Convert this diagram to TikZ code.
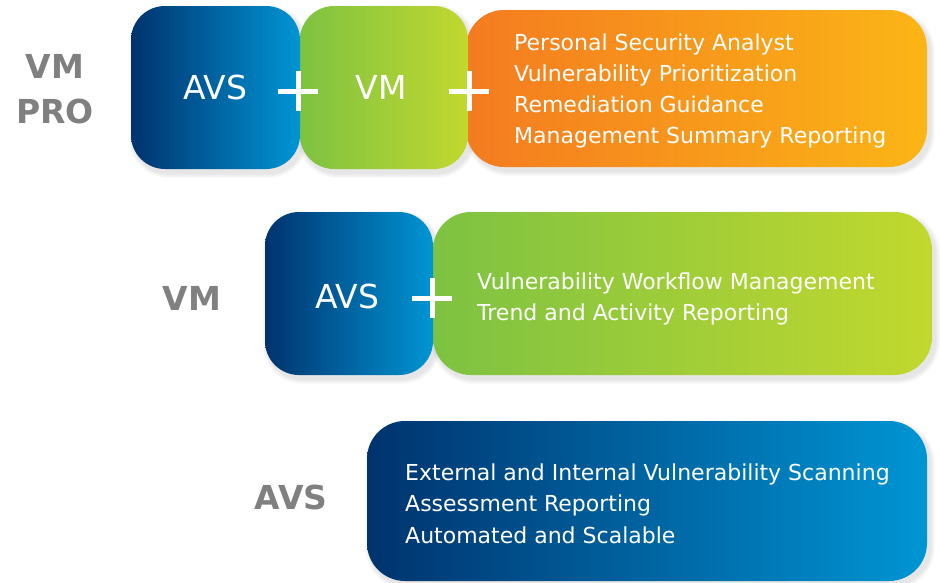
\documentclass[tikz,border=0pt]{standalone}
\usepackage{fontspec}
\setmainfont{DejaVu Sans}
\usetikzlibrary{calc}
\newcommand\softshade[5]{%
  \foreach \s in {1,...,5}{%
    \fill[black, opacity=0.018, rounded corners=#5pt+\s pt]
      ($(#1,#2)+(3-\s,4-\s)$) rectangle ($(#3,#4)+(3+\s,4+\s)$);}}
\begin{document}
\begin{tikzpicture}[x=1pt,y=-1pt,
  sqbox/.style={rounded corners=34pt},
  wdbox/.style={rounded corners=38pt},
  bluegrad/.style={left color=bluel, right color=bluer},
  greengrad/.style={left color=greenl, right color=greenr},
  orangegrad/.style={left color=orangel, right color=oranger},
  big/.style={text=white, font=\fontsize{33}{40}\selectfont},
  item/.style={text=white, anchor=base west, inner sep=0pt, font=\fontsize{22}{26}\selectfont},
  tier/.style={text=tiergray, font=\bfseries\fontsize{33}{42}\selectfont, align=center},
  plus/.style={draw=white, line width=5pt}]
\definecolor{bluel}{HTML}{00336E}
\definecolor{bluer}{HTML}{0095D4}
\definecolor{greenl}{HTML}{7DC242}
\definecolor{greenr}{HTML}{C2D82E}
\definecolor{orangel}{HTML}{F47B20}
\definecolor{oranger}{HTML}{FBB516}
\definecolor{tiergray}{HTML}{808080}
\useasboundingbox (0,0) rectangle (940,582);
% shadows
\softshade{467}{10}{927}{167}{38}
\softshade{300}{6}{468}{169}{34}
\softshade{131}{6}{300}{169}{34}
\softshade{433}{212}{932}{375}{38}
\softshade{265}{212}{433}{375}{34}
\softshade{367}{421}{927}{581}{38}
% row 1
\path[wdbox, orangegrad] (466,10) rectangle (927,167);
\path[sqbox, greengrad] (300,6) rectangle (468,169);
\path[sqbox, bluegrad] (131,6) rectangle (300,169);
\node[big] (avs1) at (215,87) {AVS};
\node[big] (vm1) at (381,87) {VM};
\node[item] (p1) at (514,50) {Personal Security Analyst};
\node[item] (p2) at (514,81) {Vulnerability Prioritization};
\node[item] (p3) at (514,112) {Remediation Guidance};
\node[item] (p4) at (514,143) {Management Summary Reporting};
\draw[plus] (278,91) -- (318,91) (298,71) -- (298,111);
\draw[plus] (449,91) -- (489,91) (469,71) -- (469,111);
\node[tier] (t1) at (55,89) {VM\\[3pt]PRO};
% row 2
\path[wdbox, greengrad] (433,212) rectangle (932,375);
\path[sqbox, bluegrad] (265,212) rectangle (433,375);
\node[big] (avs2) at (347,296) {AVS};
\node[item] (q1) at (477,289) {Vulnerability Workflow Management};
\node[item] (q2) at (477,320) {Trend and Activity Reporting};
\draw[plus] (412,298) -- (452,298) (432,278) -- (432,318);
\node[tier] (t2) at (192,298) {VM};
% row 3
\path[wdbox, bluegrad] (367,421) rectangle (927,581);
\node[item] (r1) at (405,480) {External and Internal Vulnerability Scanning};
\node[item] (r2) at (405,511) {Assessment Reporting};
\node[item] (r3) at (405,543) {Automated and Scalable};
\node[tier] (t3) at (291,497) {AVS};
\end{tikzpicture}
\end{document}
